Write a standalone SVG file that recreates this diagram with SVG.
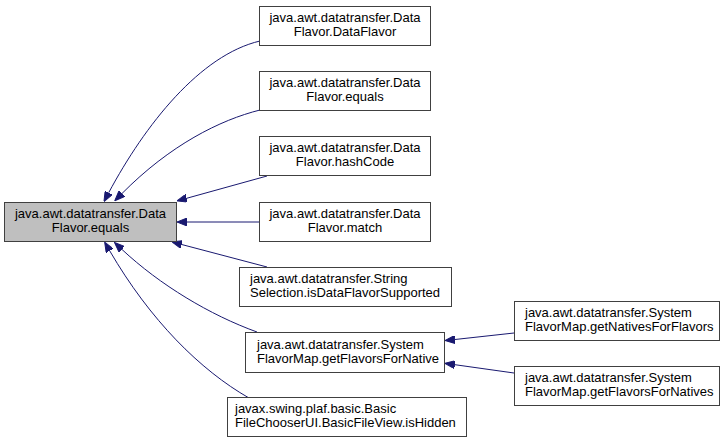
<svg xmlns="http://www.w3.org/2000/svg" width="725" height="444" viewBox="0 0 725 444">
<style>
  rect.n { fill: #ffffff; stroke: #404040; stroke-width: 1; }
  rect.m { fill: #bfbfbf; stroke: #404040; stroke-width: 1; }
  text { font-family: "Liberation Sans", Arial, sans-serif; font-size: 13px; fill: #000000; }
  .c { text-anchor: middle; }
  .e path { fill: none; stroke: #191970; stroke-width: 1; marker-end: url(#ah); }
</style>
<defs>
  <marker id="ah" viewBox="0 0 10 8" refX="0" refY="4" markerWidth="10" markerHeight="8" markerUnits="userSpaceOnUse" orient="auto">
    <path d="M0,0 L10,4 L0,8 z" fill="#191970" stroke="#191970" stroke-width="1"/>
  </marker>
</defs>
<rect width="725" height="444" fill="#ffffff"/>
<g id="edges" class="e">
  <path d="M260,41 C200,55 145,125 108.7,192.7"/>
  <path d="M260,110 C220,120 170,145 121.8,193.7"/>
  <path d="M267,176 L186.6,198.3"/>
  <path d="M260,222 L187,222"/>
  <path d="M267,267 L181.7,244.5"/>
  <path d="M257,332 C210,315 160,285 121.8,249.3"/>
  <path d="M249,398 C200,370 150,320 109.7,250.8"/>
  <path d="M514,333 L454.9,339.5"/>
  <path d="M514,373 L454.9,364.7"/>
</g>
<g id="main">
  <rect class="m" x="4.5" y="202.5" width="172" height="39"/>
  <text class="c" x="90.5" y="218">java.awt.datatransfer.Data</text>
  <text class="c" x="90.5" y="232">Flavor.equals</text>
</g>
<g id="n1">
  <rect class="n" x="259.5" y="6.5" width="171" height="39"/>
  <text class="c" x="345" y="22">java.awt.datatransfer.Data</text>
  <text class="c" x="345" y="36">Flavor.DataFlavor</text>
</g>
<g id="n2">
  <rect class="n" x="259.5" y="71.5" width="171" height="39"/>
  <text class="c" x="345" y="87">java.awt.datatransfer.Data</text>
  <text class="c" x="345" y="101">Flavor.equals</text>
</g>
<g id="n3">
  <rect class="n" x="259.5" y="136.5" width="171" height="39"/>
  <text class="c" x="345" y="152">java.awt.datatransfer.Data</text>
  <text class="c" x="345" y="166">Flavor.hashCode</text>
</g>
<g id="n4">
  <rect class="n" x="259.5" y="202.5" width="171" height="39"/>
  <text class="c" x="345" y="218">java.awt.datatransfer.Data</text>
  <text class="c" x="345" y="232">Flavor.match</text>
</g>
<g id="n5">
  <rect class="n" x="239.5" y="267.5" width="212" height="39"/>
  <text x="250" y="283">java.awt.datatransfer.String</text>
  <text x="250" y="297">Selection.isDataFlavorSupported</text>
</g>
<g id="n6">
  <rect class="n" x="245.5" y="332.5" width="199" height="40"/>
  <text x="257" y="349">java.awt.datatransfer.System</text>
  <text x="257" y="363">FlavorMap.getFlavorsForNative</text>
</g>
<g id="n7">
  <rect class="n" x="227.5" y="397.5" width="239" height="39"/>
  <text x="235" y="413">javax.swing.plaf.basic.Basic</text>
  <text x="235" y="427">FileChooserUI.BasicFileView.isHidden</text>
</g>
<g id="n8">
  <rect class="n" x="514.5" y="301.5" width="205" height="39"/>
  <text x="525" y="317">java.awt.datatransfer.System</text>
  <text x="525" y="331">FlavorMap.getNativesForFlavors</text>
</g>
<g id="n9">
  <rect class="n" x="514.5" y="366.5" width="205" height="39"/>
  <text x="525" y="382">java.awt.datatransfer.System</text>
  <text x="525" y="396">FlavorMap.getFlavorsForNatives</text>
</g>
</svg>
